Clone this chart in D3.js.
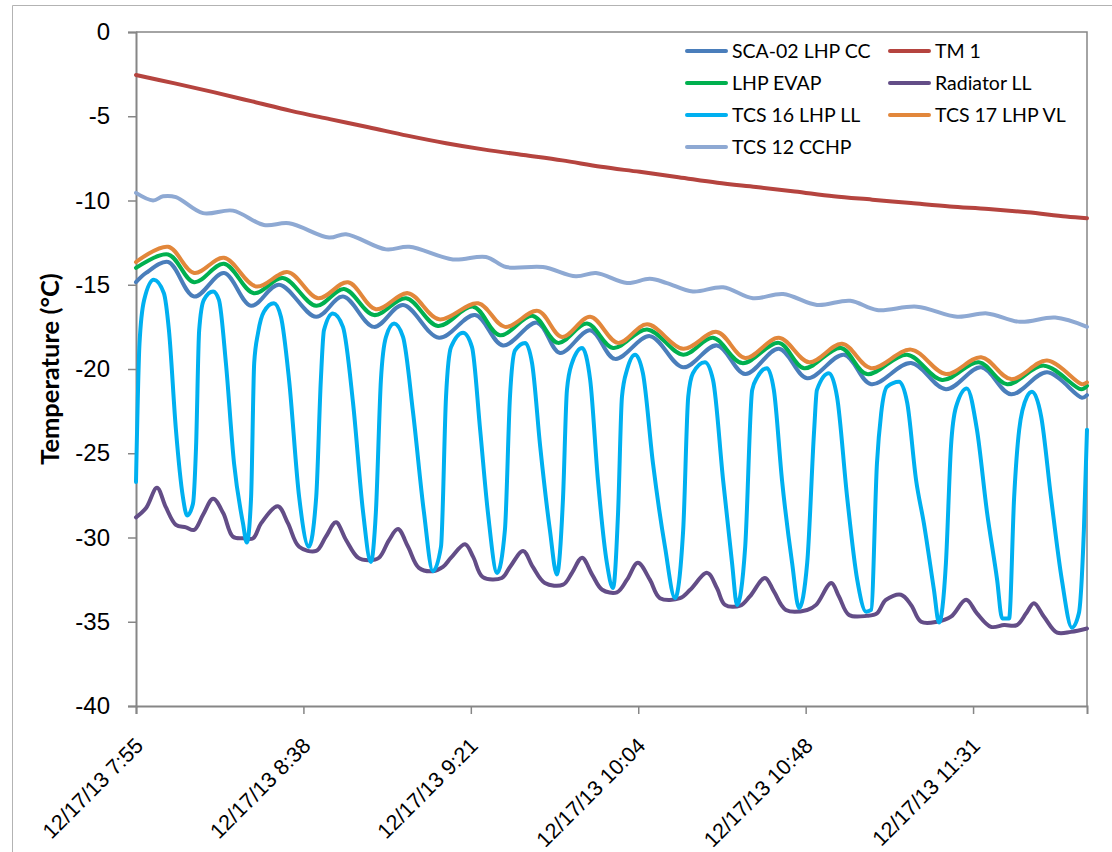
<!DOCTYPE html>
<html>
<head>
<meta charset="utf-8">
<script src="https://cdn.jsdelivr.net/npm/d3@7"></script>
<style>
  html, body { margin: 0; padding: 0; background: #ffffff; }
  svg { display: block; font-family: Lato, "Open Sans", "Liberation Sans", sans-serif; }
</style>
</head>
<body>
<svg id="chart" width="1112" height="852"></svg>
<script>
// ---------------- DATA ----------------
// Series (legend order = drawing order)
const seriesNames = ["SCA-02 LHP CC", "TM 1", "LHP EVAP", "Radiator LL", "TCS 16 LHP LL", "TCS 17 LHP VL", "TCS 12 CCHP"];
const seriesColors = ["#4A7EBB", "#B5443F", "#00B04F", "#634D87", "#00B0F0", "#E2873B", "#8EA9D3"];

// x-axis tick labels (major unit 0.03 day = 43.2 min, starting 12/17/13 7:55)
const xTickLabels = ["12/17/13 7:55", "12/17/13 8:38", "12/17/13 9:21", "12/17/13 10:04", "12/17/13 10:48", "12/17/13 11:31"];
const xTickStepMinutes = 43.2;
const xEndMinutes = 245.4;
// y-axis ticks (°C)
const yTicks = [0, -5, -10, -15, -20, -25, -30, -35, -40];

// Readings: [minutes after 12/17/13 7:55, temperature °C]
const sca02 = [[0,-14.85],[2.6,-14.3],[8.3,-13.65],[15.0,-15.7],[22.7,-14.3],[29.7,-16.25],[36.9,-15.0],[46.5,-16.9],[53.4,-15.7],[61.4,-17.5],[68.9,-16.2],[78.2,-18.15],[87.5,-16.8],[94.7,-18.6],[103.5,-17.25],[109.4,-19.05],[117.2,-17.7],[123.6,-19.4],[132.6,-18.05],[141.2,-19.9],[149.9,-18.6],[157.2,-20.3],[165.9,-18.8],[173.2,-20.55],[182.7,-19.15],[189.7,-20.9],[200.0,-19.65],[209.0,-21.2],[218.1,-19.9],[225.8,-21.5],[235.1,-20.2],[244.1,-21.7],[245.4,-21.55]];

const tm1 = [[0,-2.55],[10,-3.05],[20,-3.57],[30,-4.12],[40,-4.68],[50,-5.17],[60,-5.65],[70,-6.15],[80,-6.6],[90,-6.98],[100,-7.3],[110,-7.62],[120,-8.0],[130,-8.3],[140,-8.62],[150,-8.95],[160,-9.2],[170,-9.46],[180,-9.75],[190,-9.95],[200,-10.15],[210,-10.35],[220,-10.5],[230,-10.7],[240,-10.95],[245.4,-11.05]];

const lhpEvap = [[0,-14.0],[8.3,-13.2],[15.0,-14.85],[22.7,-13.75],[30.4,-15.5],[37.9,-14.6],[46.5,-16.25],[53.7,-15.25],[61.4,-16.8],[69.7,-15.8],[77.9,-17.45],[87.0,-16.3],[93.9,-18.0],[102.4,-16.85],[108.9,-18.45],[116.4,-17.3],[123.1,-18.75],[131.9,-17.65],[141.2,-19.15],[148.9,-18.15],[156.4,-19.65],[165.9,-18.45],[172.4,-19.95],[181.9,-18.75],[188.6,-20.3],[199.0,-19.15],[208.0,-20.65],[217.5,-19.6],[224.8,-20.9],[234.3,-19.8],[243.9,-21.2],[245.4,-21.0]];

const radiatorLL = [[0,-28.8],[2.6,-28.25],[5.4,-27.05],[7.7,-28.2],[10.3,-29.25],[12.9,-29.4],[15.0,-29.55],[17.3,-28.65],[19.9,-27.7],[22.5,-28.55],[25.0,-29.95],[27.6,-30.05],[30.2,-30.05],[32.3,-29.15],[36.6,-28.15],[39.2,-29.15],[42.1,-30.55],[46.5,-30.8],[49.0,-29.95],[51.6,-29.1],[54.2,-30.15],[57.3,-31.2],[60.1,-31.35],[62.7,-31.2],[65.3,-30.15],[67.6,-29.5],[70.2,-30.55],[73.0,-31.8],[76.6,-32.0],[79.2,-31.75],[81.3,-31.2],[84.9,-30.4],[87.0,-31.15],[89.5,-32.35],[94.4,-32.4],[96.5,-31.75],[99.9,-30.8],[102.4,-31.75],[105.5,-32.7],[110.2,-32.8],[112.5,-32.1],[115.1,-31.2],[117.7,-32.2],[120.3,-33.1],[124.1,-33.25],[126.7,-32.5],[129.5,-31.5],[132.6,-32.5],[135.2,-33.6],[140.4,-33.6],[143.0,-33.1],[147.4,-32.1],[149.9,-33.0],[152.0,-34.0],[155.9,-34.05],[158.4,-33.5],[162.3,-32.4],[164.6,-33.2],[167.7,-34.3],[173.2,-34.3],[175.5,-34.0],[179.4,-32.7],[181.4,-33.5],[184.0,-34.6],[188.6,-34.65],[191.2,-34.5],[193.5,-33.7],[197.4,-33.4],[200.0,-34.0],[202.6,-35.0],[206.7,-35.0],[210.3,-34.7],[214.2,-33.7],[217.0,-34.5],[220.6,-35.3],[224.0,-35.2],[227.3,-35.2],[229.7,-34.5],[231.7,-33.9],[234.3,-34.7],[237.7,-35.65],[241.3,-35.6],[245.4,-35.4]];

const tcs16 = [[0,-26.7],[0.9,-18.5],[2.1,-15.9],[4.6,-14.7],[7.2,-15.5],[8.5,-17.7],[10.3,-23.6],[12.1,-27.6],[13.2,-28.7],[14.7,-28.0],[15.5,-24.6],[16.3,-17.7],[17.5,-15.9],[19.9,-15.4],[21.4,-15.9],[23.2,-19.65],[25.3,-25.6],[27.6,-29.15],[28.6,-30.3],[29.7,-27.6],[30.5,-19.65],[31.5,-17.85],[33.0,-16.6],[35.6,-16.1],[37.4,-16.9],[39.5,-20.65],[42.1,-27.6],[44.6,-30.55],[46.5,-27.6],[47.7,-20.65],[48.5,-17.7],[50.8,-16.7],[53.4,-17.5],[56.0,-22.0],[58.6,-28.5],[60.6,-31.45],[61.9,-28.5],[63.2,-20.65],[64.5,-18.1],[66.6,-17.3],[68.9,-18.1],[71.5,-22.6],[74.3,-28.5],[76.6,-32.0],[78.7,-30.55],[80.0,-21.65],[81.3,-18.7],[84.4,-17.85],[86.7,-18.7],[88.8,-23.6],[90.8,-28.5],[93.2,-32.1],[95.2,-29.55],[96.5,-21.65],[97.8,-18.9],[100.4,-18.45],[102.2,-19.65],[104.3,-24.6],[106.8,-29.55],[108.6,-32.2],[110.2,-27.6],[111.2,-21.25],[112.5,-19.65],[115.1,-18.75],[117.2,-20.65],[119.2,-26.6],[121.5,-31.5],[123.1,-33.0],[124.4,-28.5],[125.4,-21.65],[126.7,-20.05],[128.8,-19.15],[130.8,-20.25],[133.4,-25.6],[136.5,-30.55],[139.1,-33.6],[141.2,-29.55],[142.5,-21.65],[143.7,-20.25],[146.8,-19.6],[148.9,-20.65],[151.5,-26.6],[153.8,-31.5],[155.1,-34.0],[157.2,-30.55],[159.0,-21.25],[160.3,-20.5],[162.8,-19.95],[164.6,-21.25],[166.7,-26.6],[169.3,-31.5],[171.1,-34.2],[173.2,-31.5],[175.0,-23.6],[175.7,-21.25],[178.8,-20.25],[180.9,-21.65],[183.5,-27.6],[186.1,-32.5],[188.4,-34.4],[189.7,-34.3],[191.2,-25.6],[192.3,-22.6],[193.8,-21.05],[196.9,-20.75],[199.0,-22.0],[201.3,-26.6],[203.3,-29.15],[205.9,-33.1],[207.2,-35.05],[209.0,-31.5],[210.3,-24.6],[211.6,-22.25],[214.4,-21.15],[217.0,-23.6],[219.6,-28.5],[222.2,-32.5],[223.5,-34.8],[225.3,-34.8],[226.6,-27.6],[227.9,-23.6],[229.9,-21.65],[231.2,-21.35],[233.6,-22.85],[236.1,-27.6],[238.9,-32.5],[241.5,-35.35],[243.3,-34.5],[244.6,-29.55],[245.4,-23.6]];

const tcs17 = [[0,-13.65],[8.3,-12.75],[15.0,-14.3],[22.7,-13.4],[31.0,-15.1],[39.2,-14.25],[47.0,-15.8],[54.7,-14.85],[61.9,-16.45],[70.2,-15.5],[78.2,-17.05],[88.3,-16.1],[95.2,-17.5],[103.7,-16.55],[109.9,-18.1],[117.2,-16.9],[124.4,-18.45],[131.9,-17.35],[141.2,-18.8],[149.9,-17.8],[157.2,-19.35],[165.9,-18.15],[173.7,-19.6],[182.2,-18.5],[189.7,-19.95],[200.0,-18.85],[209.0,-20.3],[218.1,-19.3],[225.8,-20.6],[235.1,-19.5],[244.1,-20.9],[245.4,-20.8]];

const tcs12 = [[0,-9.55],[4.4,-10.0],[7.0,-9.75],[10.3,-9.8],[17.3,-10.75],[25.0,-10.6],[33.0,-11.45],[39.5,-11.35],[49.8,-12.2],[54.2,-12.0],[64.5,-12.9],[70.5,-12.75],[81.8,-13.5],[90.3,-13.35],[95.5,-13.95],[105.0,-13.95],[113.5,-14.5],[118.7,-14.3],[126.7,-14.9],[132.6,-14.65],[137.0,-14.9],[143.7,-15.4],[151.5,-15.15],[159.2,-15.8],[167.0,-15.55],[175.7,-16.2],[184.3,-15.95],[191.2,-16.5],[201.5,-16.3],[211.9,-16.9],[219.6,-16.7],[228.1,-17.2],[237.2,-16.95],[245.4,-17.5]];

const seriesData = [sca02, tm1, lhpEvap, radiatorLL, tcs16, tcs17, tcs12];

// ---------------- CHART ----------------
const svg = d3.select("#chart");
const W = 1112, H = 852;
const plot = { left: 136, right: 1087, top: 32, bottom: 706 };
const axisColor = "#868686";

const t0 = new Date(2013, 11, 17, 7, 55, 0);
const toDate = m => new Date(t0.getTime() + m * 60000);

const x = d3.scaleTime()
  .domain([t0, toDate(xEndMinutes)])
  .range([plot.left, plot.right]);
const y = d3.scaleLinear()
  .domain([-40, 0])
  .range([plot.bottom, plot.top]);

// chart-area border
svg.append("path")
  .attr("d", `M12.5,${H + 2} L12.5,5.5 L${W + 2},5.5`)
  .attr("fill", "none")
  .attr("stroke", "#B3B3B3")
  .attr("stroke-width", 1);

// plot-area border (top/right)
svg.append("path")
  .attr("d", `M${plot.left},${plot.top} L${plot.right},${plot.top} L${plot.right},${plot.bottom}`)
  .attr("fill", "none")
  .attr("stroke", axisColor)
  .attr("stroke-width", 1.5);

// y axis
const yAxis = svg.append("g")
  .attr("transform", `translate(${plot.left},0)`)
  .call(d3.axisLeft(y).tickValues(yTicks).tickSize(8).tickPadding(18).tickFormat(d3.format("d")));
yAxis.select(".domain").attr("stroke", axisColor).attr("stroke-width", 2);
yAxis.selectAll(".tick line").attr("stroke", axisColor).attr("stroke-width", 1.5);
yAxis.selectAll(".tick text")
  .attr("fill", "#000")
  .style("font-size", "24px")
  .text(d => String(d));

// x axis
const xTickValues = xTickLabels.map((_, i) => toDate(i * xTickStepMinutes));
const xAxis = svg.append("g")
  .attr("transform", `translate(0,${plot.bottom})`)
  .call(d3.axisBottom(x).tickValues(xTickValues).tickSize(8).tickFormat((d, i) => xTickLabels[i]));
xAxis.select(".domain").attr("stroke", axisColor).attr("stroke-width", 2);
xAxis.selectAll(".tick line").attr("stroke", axisColor).attr("stroke-width", 1.5);
xAxis.selectAll(".tick text")
  .attr("fill", "#000")
  .attr("x", 0).attr("y", 0).attr("dy", 0)
  .attr("text-anchor", "end")
  .attr("transform", "translate(8,41) rotate(-45)")
  .style("font-size", "21.5px");

// y-axis title
svg.append("text")
  .attr("transform", `translate(59,${(plot.top + plot.bottom) / 2}) rotate(-90)`)
  .attr("text-anchor", "middle")
  .style("font-size", "25.5px")
  .style("font-weight", "bold")
  .text("Temperature (°C)");

// lines
const smoothLine = d3.line()
  .x(d => x(toDate(d[0])))
  .y(d => y(d[1]))
  .curve(d3.curveCatmullRom.alpha(0.5));
const sharpLine = d3.line()
  .x(d => x(toDate(d[0])))
  .y(d => y(d[1]))
  .curve(d3.curveMonotoneX);

const plotG = svg.append("g");
seriesData.forEach((data, i) => {
  plotG.append("path")
    .datum(data)
    .attr("d", data === tcs16 ? sharpLine : smoothLine)
    .attr("fill", "none")
    .attr("stroke", seriesColors[i])
    .attr("stroke-width", 4)
    .attr("stroke-linejoin", "round")
    .attr("stroke-linecap", "round");
});

// legend (2 columns, row-major)
const legend = svg.append("g");
const legCols = [687, 890];
const legRow0 = 51, legRowStep = 32;
seriesNames.forEach((name, i) => {
  const cx = legCols[i % 2];
  const cy = legRow0 + Math.floor(i / 2) * legRowStep;
  const g = legend.append("g").attr("transform", `translate(${cx},${cy})`);
  g.append("line")
    .attr("x1", 0).attr("x2", 39).attr("y1", 0).attr("y2", 0)
    .attr("stroke", seriesColors[i])
    .attr("stroke-width", 4)
    .attr("stroke-linecap", "round");
  g.append("text")
    .attr("x", 45).attr("y", 0).attr("dy", "0.35em")
    .style("font-size", "19.5px")
    .attr("fill", "#000")
    .text(name);
});
</script>
</body>
</html>
